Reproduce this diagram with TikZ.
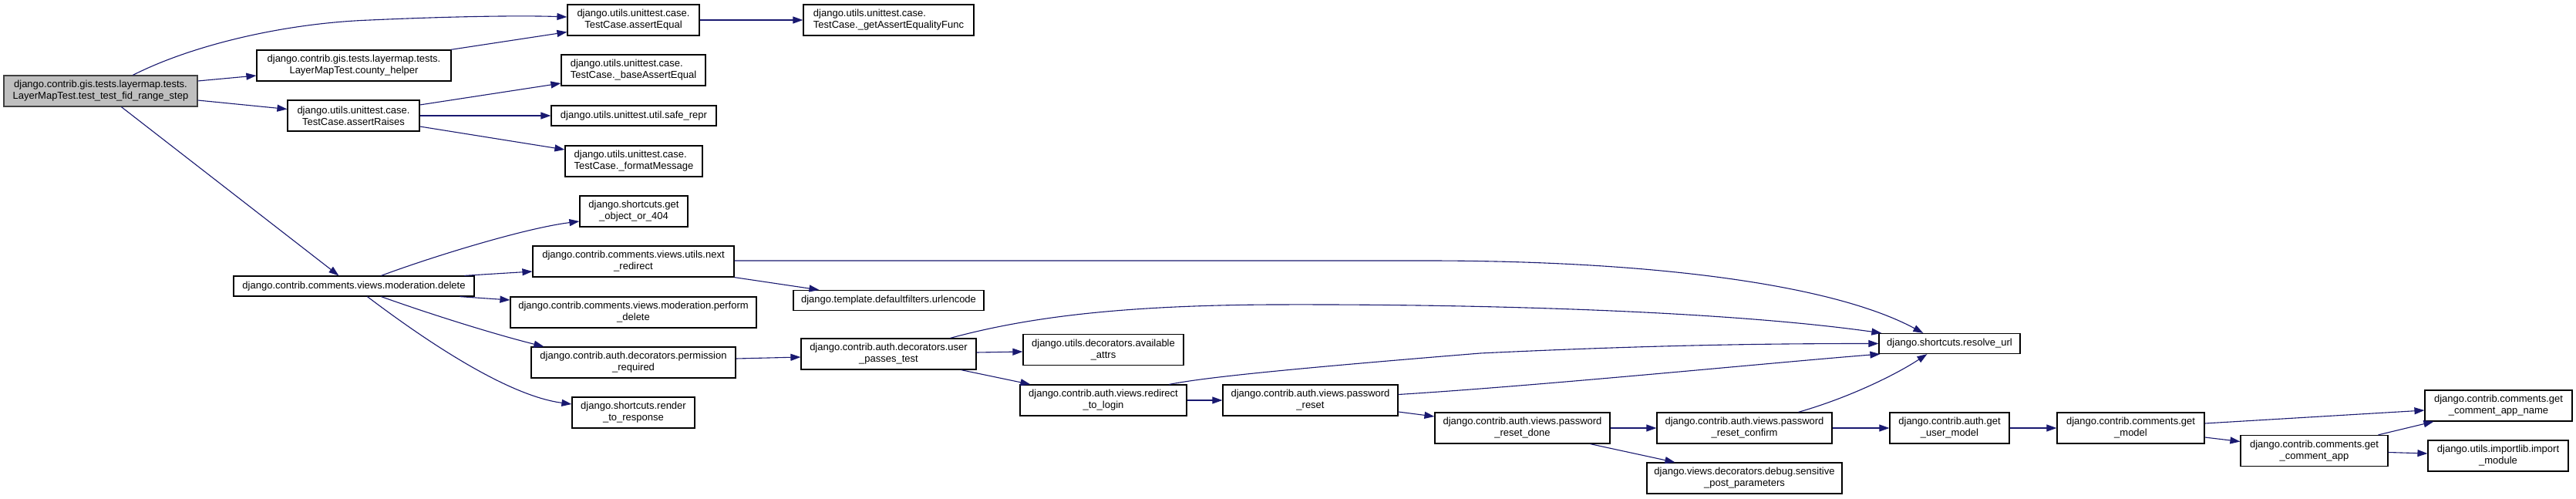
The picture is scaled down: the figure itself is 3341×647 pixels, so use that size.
\documentclass[tikz,border=0pt]{standalone}
\usepackage{fontspec}
\setmainfont{Liberation Sans}
\usetikzlibrary{arrows.meta,calc}
\definecolor{edgecol}{HTML}{191970}
\definecolor{maingray}{HTML}{BFBFBF}
\definecolor{mainborder}{HTML}{404040}
\begin{document}
\begin{tikzpicture}[x=1pt,y=-1pt,
  box/.style={draw=black, fill=white, line width=1.2pt, inner sep=0pt, align=center,
    font=\fontsize{13}{15}\selectfont},
  lbox/.style={box, align=left},
  edge/.style={draw=edgecol, line width=1.1pt, -{Triangle[length=13pt,width=9pt]}}]
\useasboundingbox (0,0) rectangle (3341,647);
\fill[white] (0,0) rectangle (3341,647);

% rank 0
\node[box, fill=maingray, draw=mainborder, minimum width=251pt, minimum height=40pt] (main) at (130.5,118)
  {django.contrib.gis.tests.layermap.tests.\\LayerMapTest.test\_test\_fid\_range\_step};
% rank 1
\node[box, minimum width=252pt, minimum height=40pt] (county) at (459,85)
  {django.contrib.gis.tests.layermap.tests.\\LayerMapTest.county\_helper};
\node[box, minimum width=171pt, minimum height=40pt] (araises) at (458.5,150)
  {django.utils.unittest.case.\\TestCase.assertRaises};
\node[box, minimum width=312pt, minimum height=26pt] (moddel) at (459,371)
  {django.contrib.comments.views.moderation.delete};
% rank 2
\node[box, minimum width=171pt, minimum height=40pt] (aequal) at (821.5,26)
  {django.utils.unittest.case.\\TestCase.assertEqual};
\node[lbox, minimum width=187pt, minimum height=40pt] (baseeq) at (821.5,91)
  {django.utils.unittest.case.\\TestCase.\_baseAssertEqual};
\node[box, minimum width=214pt, minimum height=26pt] (saferepr) at (822,150)
  {django.utils.unittest.util.safe\_repr};
\node[lbox, minimum width=178pt, minimum height=40pt] (fmtmsg) at (822,209)
  {django.utils.unittest.case.\\TestCase.\_formatMessage};
\node[box, minimum width=140pt, minimum height=40pt] (getobj) at (822,274)
  {django.shortcuts.get\\\_object\_or\_404};
\node[box, minimum width=261pt, minimum height=40pt] (nextred) at (821.5,339)
  {django.contrib.comments.views.utils.next\\\_redirect};
\node[box, minimum width=319pt, minimum height=40pt] (perfdel) at (821.5,405)
  {django.contrib.comments.views.moderation.perform\\\_delete};
\node[box, minimum width=265pt, minimum height=40pt] (permreq) at (821.5,470)
  {django.contrib.auth.decorators.permission\\\_required};
\node[box, minimum width=159pt, minimum height=40pt] (render) at (821.5,535)
  {django.shortcuts.render\\\_to\_response};
% rank 3
\node[lbox, minimum width=221pt, minimum height=40pt] (getaef) at (1152.5,26)
  {django.utils.unittest.case.\\TestCase.\_getAssertEqualityFunc};
\node[box, minimum width=247pt, minimum height=26pt] (urlenc) at (1152.5,389.5)
  {django.template.defaultfilters.urlencode};
\node[box, minimum width=227pt, minimum height=40pt] (userpass) at (1152.5,459)
  {django.contrib.auth.decorators.user\\\_passes\_test};
% rank 4
\node[box, minimum width=208pt, minimum height=40pt] (avail) at (1431,453.5)
  {django.utils.decorators.available\\\_attrs};
\node[box, minimum width=216pt, minimum height=40pt] (redir) at (1431,519)
  {django.contrib.auth.views.redirect\\\_to\_login};
% rank 5
\node[box, minimum width=227pt, minimum height=40pt] (pwreset) at (1699.5,519)
  {django.contrib.auth.views.password\\\_reset};
% rank 6
\node[box, minimum width=227pt, minimum height=40pt] (pwdone) at (1974.5,555)
  {django.contrib.auth.views.password\\\_reset\_done};
% rank 7
\node[box, minimum width=227pt, minimum height=40pt] (confirm) at (2262.5,555)
  {django.contrib.auth.views.password\\\_reset\_confirm};
\node[box, minimum width=253pt, minimum height=40pt] (sensitive) at (2262.5,620)
  {django.views.decorators.debug.sensitive\\\_post\_parameters};
% rank 8
\node[box, minimum width=183pt, minimum height=26pt] (resolve) at (2528.5,445.5)
  {django.shortcuts.resolve\_url};
\node[box, minimum width=155pt, minimum height=40pt] (getuser) at (2528.5,555)
  {django.contrib.auth.get\\\_user\_model};
% rank 9
\node[box, minimum width=191pt, minimum height=40pt] (getmodel) at (2763.5,555)
  {django.contrib.comments.get\\\_model};
% rank 10
\node[box, minimum width=191pt, minimum height=40pt] (capp) at (3001.5,584.5)
  {django.contrib.comments.get\\\_comment\_app};
% rank 11
\node[box, minimum width=191pt, minimum height=40pt] (cappname) at (3240.5,526)
  {django.contrib.comments.get\\\_comment\_app\_name};
\node[box, minimum width=182pt, minimum height=40pt] (impmod) at (3240,591)
  {django.utils.importlib.import\\\_module};

% edges
\draw[edge] ($(main.north west)+(168,0)$) .. controls (250,58) and (370,30) .. (480,26)
  .. controls (590,21) and (680,20) .. ($(aequal.west)+(0,-4)$);
\draw[edge] ($(main.east)+(0,-13)$) -- ($(county.west)+(0,13)$);
\draw[edge] ($(main.east)+(0,12)$) -- ($(araises.west)+(0,-8.5)$);
\draw[edge] ($(main.south west)+(153,0)$) -- ($(moddel.north west)+(137,0)$);
\draw[edge] ($(county.north east)+(-1,0)$) -- ($(aequal.west)+(0,15.5)$);
\draw[edge] (aequal.east) -- (getaef.west);
\draw[edge] ($(araises.east)+(0,-14)$) -- ($(baseeq.west)+(0,17)$);
\draw[edge] (araises.east) -- (saferepr.west);
\draw[edge] ($(araises.east)+(0,14)$) -- ($(fmtmsg.west)+(0,-15)$);
\draw[edge] ($(moddel.north west)+(192,0)$) .. controls (560,333) and (680,296) .. ($(getobj.west)+(0,13)$);
\draw[edge] ($(moddel.north west)+(300,0)$) -- ($(nextred.west)+(0,13)$);
\draw[edge] ($(moddel.south west)+(294,0)$) -- ($(perfdel.west)+(0,-16)$);
\draw[edge] ($(moddel.south west)+(192,0)$) .. controls (560,408) and (640,433) .. ($(permreq.north west)+(17,0)$);
\draw[edge] ($(moddel.south west)+(174,0)$) .. controls (530,425) and (650,512) .. ($(render.west)+(0,-11)$);
\draw[edge] ($(nextred.east)+(0,-1)$) -- (1850,338) .. controls (2150,338) and (2380,370) .. ($(resolve.north west)+(58,0)$);
\draw[edge] (nextred.south east) -- ($(urlenc.north west)+(34,0)$);
\draw[edge] ($(permreq.east)+(0,-5)$) -- ($(userpass.west)+(0,4)$);
\draw[edge] ($(userpass.north west)+(194,0)$) .. controls (1330,412) and (1450,396) .. (1650,395)
  .. controls (1950,394) and (2250,405) .. ($(resolve.north west)+(4,0)$);
\draw[edge] ($(userpass.east)+(0,-2)$) -- ($(avail.west)+(0,2.5)$);
\draw[edge] ($(userpass.south west)+(208,0)$) -- ($(redir.north west)+(14,0)$);
\draw[edge] ($(redir.north west)+(194,0)$) .. controls (1560,490) and (1650,480) .. (1920,458)
  .. controls (2150,447) and (2300,445.5) .. (resolve.west);
\draw[edge] (redir.east) -- (pwreset.west);
\draw[edge] ($(pwreset.east)+(0,-7.5)$) .. controls (2000,500) and (2300,470) .. ($(resolve.south west)+(2,0)$);
\draw[edge] ($(pwreset.east)+(0,15)$) -- ($(pwdone.west)+(0,-15)$);
\draw[edge] (pwdone.east) -- (confirm.west);
\draw[edge] ($(pwdone.south west)+(202,0)$) -- ($(sensitive.north west)+(37,0)$);
\draw[edge] ($(confirm.north west)+(184,0)$) .. controls (2400,515) and (2460,485) .. ($(resolve.south west)+(63,0)$);
\draw[edge] (confirm.east) -- (getuser.west);
\draw[edge] (getuser.east) -- (getmodel.west);
\draw[edge] ($(getmodel.east)+(0,-6)$) -- ($(cappname.west)+(0,6)$);
\draw[edge] ($(getmodel.east)+(0,12)$) -- ($(capp.west)+(0,-12)$);
\draw[edge] ($(capp.north west)+(179,0)$) -- ($(cappname.south west)+(12,0)$);
\draw[edge] ($(capp.east)+(0,2)$) -- ($(impmod.west)+(0,-3)$);
\end{tikzpicture}
\end{document}
